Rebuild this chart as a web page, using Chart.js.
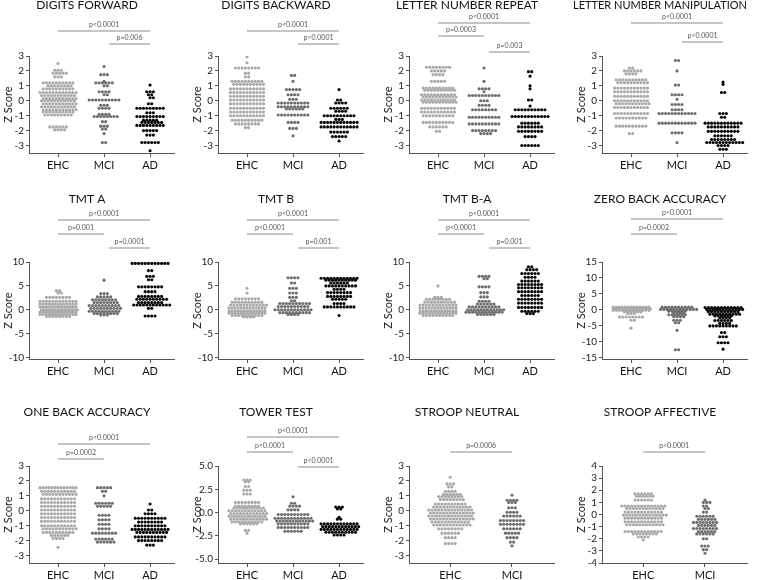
<!DOCTYPE html>
<html>
<head>
<meta charset="utf-8">
<script src="https://cdn.jsdelivr.net/npm/chart.js@4"></script>
<style>
  body { margin: 0; background: #fff; }
  #wrap { position: relative; width: 763px; height: 580px; overflow: hidden; background: #fff; }
  #wrap canvas { position: absolute; }
</style>
</head>
<body>
<div id="wrap"></div>
<script>
// Group names
const groups = ['EHC', 'MCI', 'AD'];

// Values, as [z score, number of subjects at that score]
const dfEHC = [[2.5,1],[2.05,3],[1.85,5],[1.6,3],[1.2,10],[1.0,8],[0.8,10],[0.55,12],[0.35,11],[0.15,11],[0,11],[-0.2,11],[-0.4,11],[-0.6,11],[-0.75,10],[-0.95,9],[-1.75,6],[-1.95,4]];
const dfMCI = [[2.3,1],[1.75,3],[1.3,1],[1.2,6],[1.0,2],[0.6,4],[0.4,2],[0.05,10],[-0.3,3],[-0.5,4],[-0.9,4],[-1.05,8],[-1.4,2],[-1.7,3],[-1.9,2],[-2.2,1],[-2.8,2]];
const dfAD = [[1.05,1],[0.6,3],[0.4,2],[0.2,2],[-0.2,2],[-0.5,9],[-0.8,3],[-1.05,9],[-1.3,5],[-1.45,7],[-1.65,9],[-2.0,5],[-2.3,3],[-2.8,6],[-3.35,1]];

const dbEHC = [[2.95,1],[2.55,1],[2.2,8],[1.85,2],[1.6,2],[1.3,10],[1.1,10],[0.8,11],[0.55,11],[0.3,11],[0.05,11],[-0.2,11],[-0.5,11],[-0.75,11],[-1.0,11],[-1.3,10],[-1.55,8],[-1.8,2]];
const dbMCI = [[1.7,2],[1.3,1],[0.75,5],[0.4,4],[0.1,3],[-0.15,10],[-0.4,10],[-0.55,6],[-0.95,10],[-1.45,4],[-1.85,3],[-2.35,1]];
const dbAD = [[0.75,1],[0.05,2],[-0.15,4],[-0.5,6],[-0.7,4],[-1.0,10],[-1.25,3],[-1.45,12],[-1.75,12],[-2.1,6],[-2.4,5],[-2.7,1]];

const lnrEHC = [[2.25,8],[2.0,5],[1.75,4],[1.3,5],[0.85,10],[0.7,10],[0.4,11],[0.25,11],[0.05,11],[-0.1,11],[-0.5,11],[-0.75,11],[-1.0,10],[-1.45,10],[-1.75,6],[-2.05,2]];
const lnrMCI = [[2.2,1],[1.3,1],[0.8,4],[0.6,1],[0.35,10],[0,3],[-0.3,4],[-0.6,8],[-1.1,10],[-1.55,10],[-2.0,8],[-2.2,4]];
const lnrAD = [[1.95,2],[1.65,1],[1.0,1],[0.8,1],[0.05,2],[-0.35,1],[-0.6,10],[-1.05,12],[-1.5,6],[-1.75,8],[-2.05,8],[-2.4,4],[-3.0,6]];

const lnmEHC = [[2.2,2],[2.0,6],[1.8,4],[1.4,10],[1.2,10],[0.85,11],[0.6,11],[0.3,11],[0,11],[-0.2,11],[-0.45,11],[-0.85,11],[-1.15,10],[-1.7,10],[-2.2,2]];
const lnmMCI = [[2.7,2],[2.0,1],[1.05,2],[0.4,4],[0.1,1],[-0.25,4],[-0.6,4],[-0.85,12],[-1.5,12],[-2.15,4],[-2.8,1]];
const lnmAD = [[1.25,1],[1.1,1],[0.55,2],[-0.85,3],[-1.1,2],[-1.5,12],[-1.75,10],[-2.05,10],[-2.35,6],[-2.6,8],[-2.8,12],[-3.0,4],[-3.25,3]];

const tmtaEHC = [[4.0,2],[3.5,2],[2.6,8],[1.8,12],[1.2,13],[0.6,14],[0,14],[-0.5,14],[-1.0,13],[-1.4,8]];
const tmtaMCI = [[6.2,1],[3.4,3],[2.7,5],[2.1,8],[1.5,8],[0.9,10],[0.3,10],[-0.3,10],[-0.8,8],[-1.1,3]];
const tmtaAD = [[9.7,12],[8.2,2],[7.0,3],[6.3,2],[4.8,8],[3.8,4],[2.8,8],[2.2,10],[1.5,8],[1.0,12],[0.3,2],[-1.3,4]];

const tmtbEHC = [[4.5,1],[3.5,1],[2.3,8],[1.6,10],[1.0,12],[0.4,13],[-0.2,14],[-0.7,13],[-1.2,10],[-1.5,4]];
const tmtbMCI = [[6.7,4],[5.6,2],[4.5,3],[3.5,3],[2.6,3],[1.9,2],[1.3,10],[0.7,10],[0,12],[-0.6,10],[-1.0,4]];
const tmtbAD = [[6.6,12],[6.2,10],[5.6,6],[5.0,10],[4.3,4],[3.6,8],[2.8,8],[2.2,5],[1.3,4],[0.6,10],[-1.2,1]];

const tmtbaEHC = [[5.0,1],[2.6,3],[2.2,8],[1.6,10],[1.0,12],[0.4,13],[-0.2,14],[-0.7,13],[-1.2,10]];
const tmtbaMCI = [[7.0,4],[6.5,2],[4.8,4],[3.6,3],[2.7,3],[1.8,4],[1.2,6],[0.6,10],[0,12],[-0.5,12],[-1.0,6]];
const tmtbaAD = [[9.0,2],[8.4,4],[7.6,6],[6.8,4],[6.0,6],[5.3,8],[4.6,8],[3.8,8],[3.0,6],[2.2,8],[1.4,8],[0.5,8],[-0.3,6],[-0.8,3]];

const zbEHC = [[0.8,13],[0.3,13],[-0.2,12],[-0.7,6],[-1.2,3],[-2.3,8],[-3.3,2],[-5.8,1]];
const zbMCI = [[0.8,10],[0.1,12],[-0.5,6],[-1.0,4],[-1.6,6],[-2.2,4],[-3.3,3],[-4.1,2],[-6.5,1],[-12.6,2]];
const zbAD = [[0.7,12],[0.1,12],[-0.6,10],[-1.4,10],[-2.0,6],[-2.6,4],[-3.4,6],[-4.3,4],[-5.1,9],[-7.2,2],[-8.5,3],[-10.4,4],[-12.4,1]];

const obEHC = [[1.55,13],[1.3,11],[1.1,11],[0.8,11],[0.55,11],[0.3,11],[0.05,11],[-0.2,11],[-0.45,11],[-0.7,11],[-1.0,11],[-1.2,11],[-1.45,10],[-1.65,6],[-1.85,4],[-2.45,1]];
const obMCI = [[1.55,5],[1.3,2],[1.0,1],[0.5,6],[0.3,5],[-0.3,4],[-0.6,4],[-0.9,4],[-1.2,4],[-1.5,8],[-1.9,6],[-2.1,6]];
const obAD = [[0.45,1],[0.05,2],[-0.2,4],[-0.5,10],[-0.75,8],[-1.0,10],[-1.25,12],[-1.45,10],[-1.75,10],[-2.0,8],[-2.3,3]];

const twEHC = [[3.5,3],[3.3,2],[2.8,2],[2.4,3],[2.0,3],[1.1,8],[0.7,8],[0.5,10],[0.2,12],[-0.1,12],[-0.4,12],[-0.7,12],[-1.0,10],[-1.2,6],[-1.9,2],[-2.2,1]];
const twMCI = [[1.7,1],[1.0,2],[0.7,4],[0.3,4],[-0.2,10],[-0.6,12],[-0.9,12],[-1.2,10],[-1.6,10],[-2.0,6]];
const twAD = [[0.6,3],[0.4,2],[-0.5,1],[-0.7,2],[-1.2,12],[-1.5,12],[-1.8,12],[-2.1,10],[-2.4,4]];

const snEHC = [[2.25,1],[1.8,3],[1.6,2],[1.3,4],[1.1,6],[0.95,8],[0.75,8],[0.45,10],[0.25,12],[0.05,14],[-0.15,14],[-0.35,14],[-0.55,14],[-0.75,12],[-0.95,12],[-1.2,8],[-1.5,6],[-1.8,4],[-2.2,4]];
const snMCI = [[1.05,1],[0.7,4],[0.55,3],[0.2,3],[-0.1,4],[-0.35,6],[-0.65,8],[-0.9,8],[-1.2,6],[-1.5,5],[-1.8,4],[-2.1,2],[-2.35,1]];

const saEHC = [[1.7,6],[1.5,6],[1.2,6],[0.7,14],[0.5,12],[0.2,12],[-0.05,14],[-0.3,12],[-0.6,12],[-0.85,12],[-1.4,12],[-1.6,8],[-1.85,4],[-2.1,1]];
const saMCI = [[1.2,1],[1.0,3],[0.7,2],[0.5,2],[0.2,2],[-0.15,6],[-0.4,6],[-0.65,8],[-0.9,6],[-1.15,8],[-1.4,6],[-1.6,6],[-2.0,2],[-2.6,3],[-2.9,2],[-3.2,1]];

// Tick labels
const ticks3 = [-3, -2, -1, 0, 1, 2, 3];
const ticks4 = [-4, -3, -2, -1, 0, 1, 2, 3, 4];
const ticks10 = [-10, -5, 0, 5, 10];
const ticks15 = [-15, -10, -5, 0, 5, 10, 15];
const ticksTower = [-5, -2.5, 0, 2.5, 5];

// Panels: brackets are [groupA, groupB, p label, px above plot]
const panels = [
  { title: 'DIGITS FORWARD', sets: [dfEHC, dfMCI, dfAD], y: [-3.5, 3], ticks: ticks3, dec: 0,
    brackets: [[1, 3, 'p<0.0001', 25], [2, 3, 'p=0.006', 12]] },
  { title: 'DIGITS BACKWARD', sets: [dbEHC, dbMCI, dbAD], y: [-3.5, 3], ticks: ticks3, dec: 0,
    brackets: [[1, 3, 'p<0.0001', 25], [2, 3, 'p<0.0001', 12]] },
  { title: 'LETTER NUMBER REPEAT', sets: [lnrEHC, lnrMCI, lnrAD], y: [-3.5, 3], ticks: ticks3, dec: 0,
    brackets: [[1, 3, 'p<0.0001', 33], [1, 2, 'p=0.0003', 20], [2, 3, 'p=0.003', 4]] },
  { title: 'LETTER NUMBER MANIPULATION', sets: [lnmEHC, lnmMCI, lnmAD], y: [-3.5, 3], ticks: ticks3, dec: 0,
    brackets: [[1, 3, 'p<0.0001', 33], [2, 3, 'p<0.0001', 14]] },
  { title: 'TMT A', sets: [tmtaEHC, tmtaMCI, tmtaAD], y: [-10.3, 10], ticks: ticks10, dec: 0,
    brackets: [[1, 3, 'p<0.0001', 42], [1, 2, 'p=0.001', 28], [2, 3, 'p=0.0001', 14]] },
  { title: 'TMT B', sets: [tmtbEHC, tmtbMCI, tmtbAD], y: [-10.3, 10], ticks: ticks10, dec: 0,
    brackets: [[1, 3, 'p<0.0001', 42], [1, 2, 'p<0.0001', 28], [2, 3, 'p=0.001', 14]] },
  { title: 'TMT B-A', sets: [tmtbaEHC, tmtbaMCI, tmtbaAD], y: [-10.3, 10], ticks: ticks10, dec: 0,
    brackets: [[1, 3, 'p<0.0001', 42], [1, 2, 'p<0.0001', 28], [2, 3, 'p=0.001', 14]] },
  { title: 'ZERO BACK ACCURACY', sets: [zbEHC, zbMCI, zbAD], y: [-15.5, 15], ticks: ticks15, dec: 0,
    brackets: [[1, 3, 'p<0.0001', 43], [1, 2, 'p=0.0002', 28]] },
  { title: 'ONE BACK ACCURACY', sets: [obEHC, obMCI, obAD], y: [-3.5, 3], ticks: ticks3, dec: 0,
    brackets: [[1, 3, 'p<0.0001', 22], [1, 2, 'p=0.0002', 7]] },
  { title: 'TOWER TEST', sets: [twEHC, twMCI, twAD], y: [-5.4, 5], ticks: ticksTower, dec: 1,
    brackets: [[1, 3, 'p<0.0001', 29], [1, 2, 'p<0.0001', 14], [2, 3, 'p<0.0001', -1]] },
  { title: 'STROOP NEUTRAL', sets: [snEHC, snMCI], y: [-3.5, 3], ticks: ticks3, dec: 0,
    brackets: [[1, 2, 'p=0.0006', 14]] },
  { title: 'STROOP AFFECTIVE', sets: [saEHC, saMCI], y: [-4, 4], ticks: ticks4, dec: 0,
    brackets: [[1, 2, 'p<0.0001', 14]] }
];

const colors = ['#a8a8a8', '#6c6c6c', '#050505'];
const FONT = 'Lato, "Open Sans", sans-serif';
const colLeft = [0, 189, 380, 573];
const rowTop = [-14, 192, 396];
const titleCenter = [19.5, 7, 16.5]; // in canvas px, per row
const W = 190, H = 189, TOPAREA = 70;

// Significance brackets above the plot
const bracketPlugin = {
  id: 'brackets',
  afterDraw(chart, args, opts) {
    const ctx = chart.ctx;
    const xs = chart.scales.x;
    const top = chart.chartArea.top;
    ctx.save();
    (opts.list || []).forEach(([a, b, label, off]) => {
      const x1 = xs.getPixelForValue(a) + (a > 1 ? 5 : 0);
      const x2 = xs.getPixelForValue(b);
      const y = top - off;
      ctx.strokeStyle = '#8c8c8c';
      ctx.lineWidth = 1.2;
      ctx.beginPath();
      ctx.moveTo(x1, y);
      ctx.lineTo(x2, y);
      ctx.stroke();
      ctx.fillStyle = '#555';
      ctx.font = '7px ' + FONT;
      ctx.textAlign = 'center';
      ctx.textBaseline = 'bottom';
      ctx.fillText(label, (x1 + x2) / 2, y - 2.5);
    });
    ctx.restore();
  }
};

// Spread dots sharing a score side by side, like a dot plot;
// rows that nearly touch the previous one get a half step shift
function placeDots(chart, panel) {
  const xs = chart.scales.x, ys = chart.scales.y;
  const pxPerUnit = xs.getPixelForValue(1) - xs.getPixelForValue(0);
  const spacing = 3.3;
  const maxW = panel.sets.length === 2 ? 56 : 36;
  chart.data.datasets.forEach((ds, gi) => {
    const pts = [];
    let prevY = null, prevShift = 0, prevPar = -1;
    panel.sets[gi].forEach(([v, n]) => {
      const step = n > 1 ? Math.min(spacing, maxW / (n - 1)) : 0;
      const py = ys.getPixelForValue(v);
      let shift = 0;
      if (prevY !== null && Math.abs(py - prevY) < 3.2 && n % 2 === prevPar && n > 1) {
        shift = prevShift === 0 ? step / 2 : 0;
      }
      for (let i = 0; i < n; i++) {
        pts.push({ x: gi + 1 + ((i - (n - 1) / 2) * step + shift) / pxPerUnit, y: v });
      }
      prevY = py; prevShift = shift; prevPar = n % 2;
    });
    ds.data = pts;
  });
  chart.update('none');
}

const wrap = document.getElementById('wrap');
panels.forEach((p, idx) => {
  const row = Math.floor(idx / 4), col = idx % 4;
  const cv = document.createElement('canvas');
  cv.width = W; cv.height = H;
  cv.style.left = colLeft[col] + 'px';
  cv.style.top = rowTop[row] + 'px';
  cv.style.width = W + 'px'; cv.style.height = H + 'px';
  wrap.appendChild(cv);

  const n = p.sets.length;
  const xMin = n === 2 ? 0.333 : 0.37;
  const xMax = n === 2 ? 2.68 : 3.52;
  const lh = 12 * 1.2;
  const padTop = Math.max(0, titleCenter[row] - lh / 2);

  const chart = new Chart(cv.getContext('2d'), {
    type: 'scatter',
    data: {
      datasets: p.sets.map((s, i) => ({
        label: groups[i],
        data: [],
        backgroundColor: colors[i],
        borderColor: colors[i],
        borderWidth: 0,
        pointRadius: 1.55,
        pointHoverRadius: 1.55
      }))
    },
    options: {
      responsive: false,
      animation: false,
      devicePixelRatio: 1,
      events: [],
      layout: { padding: { left: 0, right: W - 29 - 145, bottom: 0, top: 0 } },
      plugins: {
        legend: { display: false },
        tooltip: { enabled: false },
        title: {
          display: true,
          text: p.title,
          color: '#111',
          font: { family: FONT, size: 12, weight: 'normal' },
          padding: { top: padTop, bottom: TOPAREA - padTop - lh }
        },
        brackets: { list: p.brackets }
      },
      scales: {
        x: {
          type: 'linear',
          min: xMin,
          max: xMax,
          afterFit: s => { s.height = 22; },
          afterBuildTicks: s => { s.ticks = groups.slice(0, n).map((g, i) => ({ value: i + 1 })); },
          ticks: {
            callback: v => groups[Math.round(v) - 1],
            color: '#111',
            font: { family: FONT, size: 11 },
            padding: 2,
            maxRotation: 0,
            autoSkip: false
          },
          grid: { drawOnChartArea: false, drawTicks: true, tickLength: 4, color: '#555' },
          border: { display: true, color: '#555', width: 1 }
        },
        y: {
          min: p.y[0],
          max: p.y[1],
          afterFit: s => { s.width = 29; },
          afterBuildTicks: s => { s.ticks = p.ticks.map(v => ({ value: v })); },
          ticks: {
            callback: v => v.toFixed(p.dec),
            color: '#222',
            font: { family: FONT, size: 10 },
            padding: 2,
            autoSkip: false
          },
          grid: { drawOnChartArea: false, drawTicks: true, tickLength: 3, color: '#555' },
          border: { display: true, color: '#555', width: 1 },
          title: {
            display: true,
            text: 'Z Score',
            color: '#222',
            font: { family: FONT, size: 11 },
            padding: { top: 2, bottom: 2 }
          }
        }
      }
    },
    plugins: [bracketPlugin]
  });
  placeDots(chart, p);
});
</script>
</body>
</html>
